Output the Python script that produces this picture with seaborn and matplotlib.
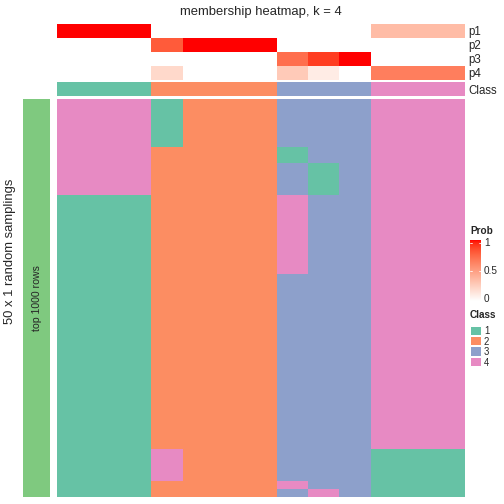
# membership heatmap, k = 4 (consensus partition membership)

import numpy as np
import matplotlib
matplotlib.use("Agg")
import matplotlib.pyplot as plt
from matplotlib.colors import ListedColormap
from matplotlib.patches import Rectangle
import seaborn as sns

sns.set_theme(style="white")
plt.rcParams["font.family"] = ["Liberation Sans", "DejaVu Sans"]

# data
class_colors = ["#66C2A5", "#FC8D62", "#8DA0CB", "#E78AC3"]
class_labels = ["1", "2", "3", "4"]
col_class = [1, 1, 1, 2, 2, 2, 2, 3, 3, 3, 4, 4, 4]
p1 = [1, 1, 1, 0, 0, 0, 0, 0, 0, 0, 0.35, 0.35, 0.35]
p2 = [0, 0, 0, 0.8, 1, 1, 1, 0, 0, 0, 0, 0, 0]
p3 = [0, 0, 0, 0, 0, 0, 0, 0.72, 0.9, 1, 0, 0, 0]
p4 = [0, 0, 0, 0.2, 0, 0, 0, 0.28, 0.1, 0, 0.65, 0.65, 0.65]
prob_names = ["p1", "p2", "p3", "p4"]

# class of each sampling (rows) per column, as (class, run length)
col_runs = [
    [(4, 12), (1, 38)],
    [(4, 12), (1, 38)],
    [(4, 12), (1, 38)],
    [(1, 6), (2, 38), (4, 4), (2, 2)],
    [(2, 50)],
    [(2, 50)],
    [(2, 50)],
    [(3, 6), (1, 2), (3, 4), (4, 10), (3, 26), (4, 1), (3, 1)],
    [(3, 8), (1, 4), (3, 37), (4, 1)],
    [(3, 50)],
    [(4, 44), (1, 6)],
    [(4, 44), (1, 6)],
    [(4, 44), (1, 6)],
]

membership = np.column_stack(
    [np.concatenate([np.repeat(c, n) for c, n in runs]) for runs in col_runs]
)
probs = np.array([p1, p2, p3, p4])


# white -> red, interpolated in LAB like colorRamp2
def lab_to_rgb(L, a, b):
    fy = (L + 16) / 116
    fx = fy + a / 500
    fz = fy - b / 200
    finv = lambda t: np.where(t > 6 / 29, t ** 3, 3 * (6 / 29) ** 2 * (t - 4 / 29))
    X, Y, Z = 0.95047 * finv(fx), finv(fy), 1.08883 * finv(fz)
    r = 3.2406 * X - 1.5372 * Y - 0.4986 * Z
    g = -0.9689 * X + 1.8758 * Y + 0.0415 * Z
    bl = 0.0557 * X - 0.2040 * Y + 1.0570 * Z
    rgb = np.clip(np.stack([r, g, bl], axis=-1), 0, 1)
    return np.where(rgb <= 0.0031308, 12.92 * rgb, 1.055 * rgb ** (1 / 2.4) - 0.055)


t = np.linspace(0, 1, 256)
red_cmap = ListedColormap(np.clip(lab_to_rgb(100 - 46.76 * t, 80.09 * t, 67.20 * t), 0, 1))
class_cmap = ListedColormap(class_colors)

W = H = 504.0
fig = plt.figure(figsize=(7, 7), dpi=72)


def px_axes(x0, y0, x1, y1):
    return fig.add_axes([x0 / W, 1 - y1 / H, (x1 - x0) / W, (y1 - y0) / H])


hm = dict(cbar=False, xticklabels=False, yticklabels=False)

# probability annotation rows
ax_p = px_axes(57, 24, 465, 80)
sns.heatmap(probs, ax=ax_p, cmap=red_cmap, vmin=0, vmax=1, **hm)

# class annotation row
ax_c = px_axes(57, 82, 465, 96)
sns.heatmap(np.array([col_class]), ax=ax_c, cmap=class_cmap, vmin=0.5, vmax=4.5, **hm)

# main membership heatmap
ax_m = px_axes(57, 99, 465, 497)
sns.heatmap(membership, ax=ax_m, cmap=class_cmap, vmin=0.5, vmax=4.5, **hm)

# left row annotation bar
ax_l = px_axes(23, 99, 50, 497)
sns.heatmap(np.zeros((1, 1)), ax=ax_l, cmap=ListedColormap(["#7FC97F"]), **hm)
ax_l.text(0.5, 0.5, "top 1000 rows", rotation=90, ha="center", va="center",
          fontsize=10.5, transform=ax_l.transAxes)

# overlay in pixel coordinates for titles and legends
ov = fig.add_axes([0, 0, 1, 1])
ov.set_xlim(0, W)
ov.set_ylim(H, 0)
ov.axis("off")
ov.patch.set_alpha(0)

ov.text(261, 14.5, "membership heatmap, k = 4", ha="center", va="baseline", fontsize=13)
ov.text(10, 251, "50 x 1 random samplings", rotation=90, ha="center", va="center", fontsize=13)
for i, name in enumerate(prob_names):
    ov.text(468, 31 + 14 * i, name, ha="left", va="center_baseline", fontsize=11.5)
ov.text(468, 89, "Class", ha="left", va="center_baseline", fontsize=11.5)

# Prob colour bar
ax_cb = px_axes(470, 240, 481, 301)
ax_cb.imshow(np.linspace(0, 1, 200)[:, None], cmap=red_cmap, aspect="auto",
             origin="lower", extent=[0, 1, -0.04, 1.05])
ax_cb.set_xlim(0, 1)
ax_cb.set_ylim(-0.04, 1.05)
for v in [0.5, 1]:
    ax_cb.plot([0, 0.22], [v, v], color="white", lw=0.8)
    ax_cb.plot([0.78, 1], [v, v], color="white", lw=0.8)
ax_cb.axis("off")
ov.text(470, 231, "Prob", ha="left", va="center", fontsize=10, fontweight="bold")
for v, lab in zip([1, 0.5, 0], ["1", "0.5", "0"]):
    ov.text(484, 299 - 56 * v, lab, ha="left", va="center", fontsize=10)

# Class legend
ov.text(470, 315, "Class", ha="left", va="center", fontsize=10, fontweight="bold")
for i, (col, lab) in enumerate(zip(class_colors, class_labels)):
    y0 = 325.5 + 10.4 * i
    ov.add_patch(Rectangle((470, y0), 11, 9.4, facecolor=col, edgecolor="white", lw=1))
    ov.text(484, y0 + 4.8, lab, ha="left", va="center_baseline", fontsize=9.5)

fig.savefig("out.png", dpi=72)
